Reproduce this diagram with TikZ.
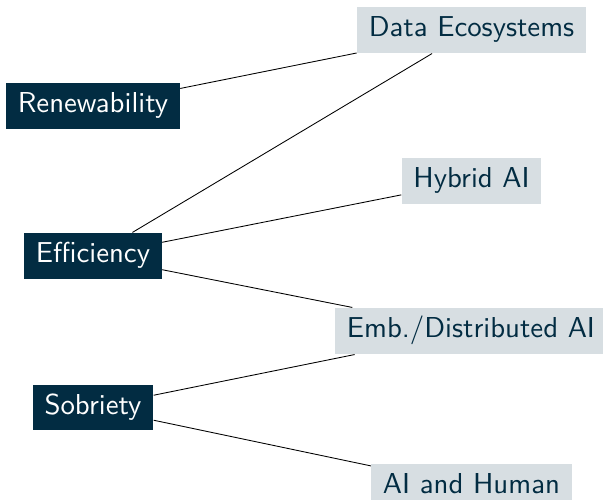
\documentclass[tikz,border=0pt]{standalone}
\usepackage{tikz}
\usetikzlibrary{calc}

\definecolor{navy}{RGB}{2,44,66}
\definecolor{paleblue}{RGB}{215,222,226}

\tikzset{
    basebox/.style={rectangle,inner xsep=4pt,inner ysep=3.3pt,text height=7.1pt,text depth=2.25pt,
        font=\sffamily\fontsize{10}{12}\selectfont},
    goalbox/.style={basebox,fill=navy,text=white},
    topicbox/.style={basebox,fill=paleblue,text=navy},
    link/.style={draw=black,line width=0.3pt}
}

\begin{document}
\begin{tikzpicture}[x=0.347pt,y=0.347pt]
                \useasboundingbox (0,0) rectangle (603,500);
                \node[goalbox] (renew) at (93,394) {Renewability};
                \node[goalbox] (effic) at (93,244) {Efficiency};
                \node[goalbox] (sobri) at (93,92.5) {Sobriety};
                \node[topicbox] (data) at (471.5,470) {Data Ecosystems};
                \node[topicbox] (hybrid) at (471.5,319) {Hybrid AI};
                \node[topicbox] (distrib) at (471,169) {Emb./Distributed AI};
                \node[topicbox] (human) at (471.5,13) {AI and Human};
                \draw[link] (renew) -- (data);
                \draw[link] (effic) -- (data);
                \draw[link] (effic) -- (hybrid);
                \draw[link] (effic) -- (distrib);
                \draw[link] (sobri) -- (distrib);
                \draw[link] (sobri) -- (human);
            \end{tikzpicture}
\end{document}
